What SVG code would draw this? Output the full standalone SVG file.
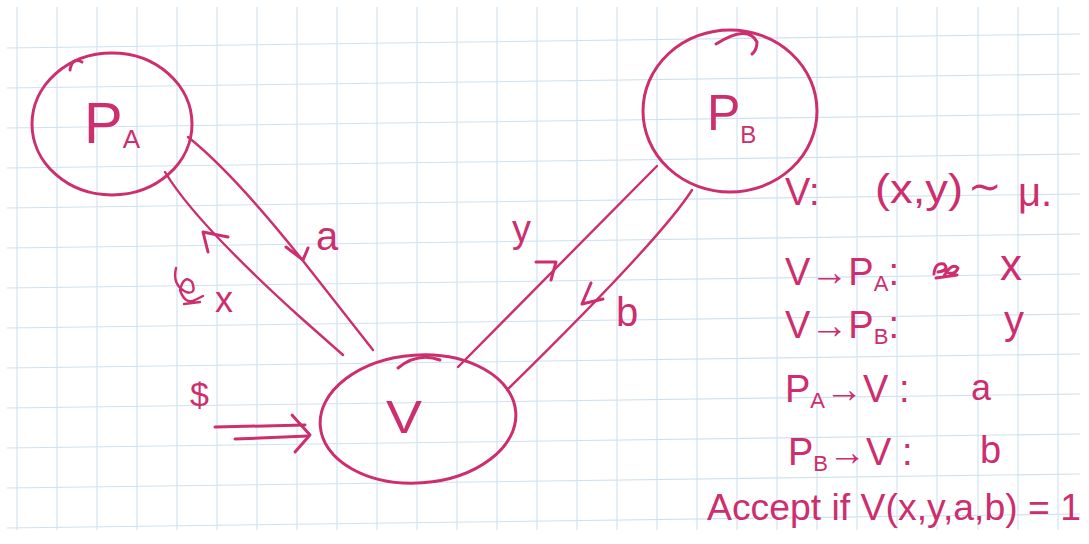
<svg xmlns="http://www.w3.org/2000/svg" width="1089" height="544" viewBox="0 0 1089 544">
<defs>
<style>
.grid line{stroke:#cfe1f0;stroke-width:1.1}
.ink{fill:none;stroke:#cc2e6e;stroke-width:3;stroke-linecap:round;stroke-linejoin:round}
.thin{fill:none;stroke:#cc2e6e;stroke-width:2.4;stroke-linecap:round;stroke-linejoin:round}
.t{fill:#cc2e6e;font-family:"Liberation Sans","DejaVu Sans",sans-serif}
</style>
</defs>
<rect width="1089" height="544" fill="#ffffff"/>
<g class="grid" id="grid">
<line x1="17" y1="7" x2="17" y2="530"/><line x1="57" y1="7" x2="57" y2="530"/><line x1="97" y1="7" x2="97" y2="530"/><line x1="137" y1="7" x2="137" y2="530"/><line x1="177" y1="7" x2="177" y2="530"/><line x1="217" y1="7" x2="217" y2="530"/><line x1="257" y1="7" x2="257" y2="530"/><line x1="297" y1="7" x2="297" y2="530"/><line x1="337" y1="7" x2="337" y2="530"/><line x1="377" y1="7" x2="377" y2="530"/><line x1="417" y1="7" x2="417" y2="530"/><line x1="457" y1="7" x2="457" y2="530"/><line x1="497" y1="7" x2="497" y2="530"/><line x1="537" y1="7" x2="537" y2="530"/><line x1="577" y1="7" x2="577" y2="530"/><line x1="617" y1="7" x2="617" y2="530"/><line x1="657" y1="7" x2="657" y2="530"/><line x1="697" y1="7" x2="697" y2="530"/><line x1="737" y1="7" x2="737" y2="530"/><line x1="777" y1="7" x2="777" y2="530"/><line x1="817" y1="7" x2="817" y2="530"/><line x1="857" y1="7" x2="857" y2="530"/><line x1="897" y1="7" x2="897" y2="530"/><line x1="937" y1="7" x2="937" y2="530"/><line x1="978" y1="7" x2="978" y2="530"/><line x1="1018" y1="7" x2="1018" y2="530"/><line x1="1058" y1="7" x2="1058" y2="530"/>
<line x1="7" y1="48" x2="1080" y2="34"/><line x1="7" y1="88" x2="1080" y2="74"/><line x1="7" y1="128" x2="1080" y2="114"/><line x1="7" y1="168" x2="1080" y2="154"/><line x1="7" y1="208" x2="1080" y2="194"/><line x1="7" y1="248" x2="1080" y2="234"/><line x1="7" y1="288" x2="1080" y2="274"/><line x1="7" y1="328" x2="1080" y2="314"/><line x1="7" y1="368" x2="1080" y2="354"/><line x1="7" y1="408" x2="1080" y2="394"/><line x1="7" y1="448" x2="1080" y2="434"/><line x1="7" y1="488" x2="1080" y2="474"/><line x1="7" y1="528" x2="1080" y2="514"/>
</g>
<g id="connectors">
<path class="thin" d="M188 137 Q232 172 300 257 L373 350"/>
<path class="ink" d="M286 247 L303 260 L308 248"/>
<path class="thin" d="M165 172 Q195 222 300 317 L343 355"/>
<path class="ink" d="M208 252 L203 232 L228 237"/>
<path class="thin" d="M458 367 L657 166"/>
<path class="ink" d="M536 262 L556 262 L551 280"/>
<path class="thin" d="M692 190 Q660 240 507 390"/>
<path class="ink" d="M591 283 L582 304 L603 299"/>
<path class="ink" d="M215 427 L305 425"/>
<path class="ink" d="M235 439 L308 436"/>
<path class="ink" d="M292 415 L310 435 L295 452"/>
</g>
<g id="node-PA">
<ellipse class="ink" cx="112" cy="124" rx="80" ry="71"/>
<path class="ink" d="M70 70 Q72 57 82 62"/>
<text class="t" x="84" y="143" font-size="58">P<tspan font-size="26" dy="5">A</tspan></text>
</g>
<g id="node-PB">
<ellipse class="ink" cx="730" cy="111" rx="87" ry="81"/>
<path class="ink" d="M716 44 Q748 24 757 42 Q757 50 752 54"/>
<text class="t" x="707" y="130" font-size="50">P<tspan font-size="24" dy="13">B</tspan></text>
</g>
<g id="node-V">
<ellipse class="ink" cx="418" cy="419" rx="98" ry="64" transform="rotate(-4 418 419)"/>
<path class="ink" d="M398 368 Q418 352 440 360"/>
<text class="t" x="386" y="433" font-size="46" textLength="36" lengthAdjust="spacingAndGlyphs">V</text>
</g>
<g id="labels">
<text class="t" x="316" y="250" font-size="40">a</text>
<path class="thin" d="M176 268 Q172 285 186 292 Q197 295 192 282 Q184 274 180 290 Q185 305 195 300 L203 296 M184 304 L200 302"/>
<text class="t" x="215" y="312" font-size="36">x</text>
<text class="t" x="512" y="242" font-size="38">y</text>
<text class="t" x="616" y="326" font-size="40">b</text>
<text class="t" x="190" y="406" font-size="34">$</text>
</g>
<g id="legend">
<text class="t" x="785" y="205" font-size="38">V:</text>
<text class="t" x="875" y="203" font-size="40" textLength="88" lengthAdjust="spacingAndGlyphs">(x,y)</text>
<text class="t" x="968" y="200" font-size="40">∼</text>
<text class="t" x="1018" y="206" font-size="40">μ.</text>
<text class="t" x="785" y="285" font-size="38">V→P<tspan font-size="22" dy="6">A</tspan><tspan dy="-6">:</tspan></text>
<path class="ink" d="M934 274 Q935 262 944 264 Q950 270 938 272 M944 276 Q952 262 958 268 Q955 276 946 272 M936 278 L957 275"/>
<text class="t" x="1000" y="280" font-size="44">x</text>
<text class="t" x="785" y="338" font-size="38">V→P<tspan font-size="22" dy="6">B</tspan><tspan dy="-6">:</tspan></text>
<text class="t" x="1004" y="334" font-size="40">y</text>
<text class="t" x="785" y="402" font-size="38">P<tspan font-size="22" dy="6">A</tspan><tspan dy="-6">→V :</tspan></text>
<text class="t" x="971" y="400" font-size="36">a</text>
<text class="t" x="788" y="465" font-size="38">P<tspan font-size="22" dy="6">B</tspan><tspan dy="-6">→V :</tspan></text>
<text class="t" x="980" y="463" font-size="38">b</text>
<text class="t" x="707" y="520" font-size="36" textLength="374" lengthAdjust="spacingAndGlyphs">Accept if V(x,y,a,b) = 1</text>
</g>
</svg>
